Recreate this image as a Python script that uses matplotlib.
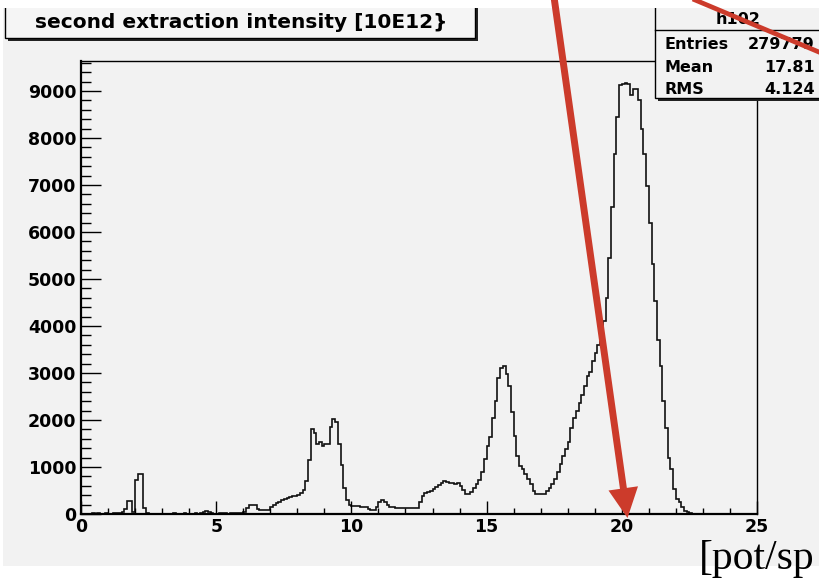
import numpy as np
import matplotlib
matplotlib.use('Agg')
import matplotlib.pyplot as plt
from matplotlib.patches import Rectangle, Polygon
from matplotlib.lines import Line2D
from matplotlib.transforms import Affine2D
from matplotlib.ticker import MultipleLocator

# ---------------- data (bin width 0.1, range 0..25) ----------------
counts_00_05 = [5, 8, 10, 6, 12, 8, 15, 10, 8, 12,
                10, 8, 12, 15, 20, 35, 110, 270, 280, 40,
                720, 860, 860, 120, 20, 10, 8, 6, 10, 8,
                10, 8, 6, 10, 12, 8, 10, 8, 12, 10,
                8, 10, 12, 10, 15, 40, 60, 50, 12, 10]
counts_05_10 = [10, 12, 15, 12, 10, 15, 18, 15, 12, 20,
                40, 130, 190, 200, 190, 100, 90, 90, 90, 90,
                150, 190, 230, 260, 290, 320, 350, 370, 390, 390,
                410, 450, 520, 700, 1150, 1800, 1730, 1500, 1540, 1450,
                1480, 1480, 1850, 2020, 1950, 1500, 1040, 560, 300, 190]
counts_10_15 = [180, 170, 160, 150, 145, 140, 100, 90, 90, 140,
                250, 290, 260, 190, 145, 150, 130, 130, 135, 130,
                130, 130, 125, 130, 130, 250, 390, 440, 470, 500,
                540, 580, 620, 660, 700, 690, 650, 670, 640, 650,
                600, 520, 430, 420, 470, 550, 640, 720, 890, 1180]
counts_15_20 = [1440, 1640, 2050, 2400, 2900, 3110, 3160, 2970, 2720, 2160,
                1650, 1230, 1020, 950, 850, 740, 640, 490, 420, 420,
                420, 420, 490, 550, 640, 740, 890, 1060, 1235, 1380,
                1530, 1840, 2050, 2190, 2370, 2540, 2720, 2930, 3015, 3250,
                3430, 3600, 3810, 4100, 4600, 5440, 6530, 7670, 8450, 9130]
counts_20_25 = [9150, 9180, 9150, 8920, 9040, 9040, 8810, 8200, 7670, 6970,
                6190, 5320, 4540, 3700, 3140, 2400, 1840, 1200, 950, 530,
                320, 250, 150, 70, 40, 20, 10, 5, 3, 0,
                0, 0, 0, 0, 0, 0, 0, 0, 0, 0,
                0, 0, 0, 0, 0, 0, 0, 0, 0, 0]
counts = counts_00_05 + counts_05_10 + counts_10_15 + counts_15_20 + counts_20_25
x_range = (0, 25)
n_bins = len(counts)

title_text = "second extraction intensity [10E12}"
stats_name = "h102"
stats_labels = ["Entries", "Mean", "RMS"]
stats_values = ["279779", "17.81", "4.124"]
unit_text = "[pot/sp"

# ---------------- figure ----------------
plt.rcParams['font.family'] = ['DejaVu Sans']
plt.rcParams['font.weight'] = 'bold'

W, H = 820, 584
fig = plt.figure(figsize=(W / 100, H / 100), dpi=100)
fig.patch.set_facecolor('white')
tr = Affine2D().scale(1.0 / W, -1.0 / H).translate(0, 1) + fig.transFigure

GRAY = '#f2f2f2'
RED = '#cc3b2b'

# canvas
fig.add_artist(Rectangle((3, 8), W, 558, transform=tr, facecolor=GRAY,
                         edgecolor='none', zorder=-5))

ax = fig.add_axes([81 / W, 1 - 514 / H, (757 - 81) / W, (514 - 61) / H])
ax.set_facecolor(GRAY)
edges = np.linspace(x_range[0], x_range[1], n_bins + 1)
ax.stairs(counts, edges, color='#111111', linewidth=1.2)
ax.set_xlim(*x_range)
ax.set_ylim(0, 9640)

ax.xaxis.set_major_locator(MultipleLocator(5))
ax.xaxis.set_minor_locator(MultipleLocator(1))
ax.yaxis.set_major_locator(MultipleLocator(1000))
ax.yaxis.set_minor_locator(MultipleLocator(200))
ax.tick_params(axis='x', which='major', direction='in', length=9.4, width=1.0,
               pad=3, labelsize=12.5, top=False)
ax.tick_params(axis='x', which='minor', direction='in', length=4.3, width=1.0, top=False)
ax.tick_params(axis='y', which='major', direction='in', length=14.4, width=1.0,
               pad=3.5, labelsize=12.5, right=False)
ax.tick_params(axis='y', which='minor', direction='in', length=7.2, width=1.0, right=False)
for lab in ax.get_xticklabels() + ax.get_yticklabels():
    lab.set_fontweight('bold')
ax.spines['left'].set_linewidth(1.6)
ax.spines['bottom'].set_linewidth(1.6)
ax.spines['top'].set_linewidth(1.0)
ax.spines['right'].set_linewidth(1.0)

# title box with shadow
fig.add_artist(Rectangle((8, 0), 470, 41, transform=tr, facecolor='#222222',
                         edgecolor='none', zorder=3))
fig.add_artist(Rectangle((5, 0), 470, 38, transform=tr, facecolor='#f5f5f5',
                         edgecolor='black', linewidth=1.0, zorder=3.1))
fig.text(241 / W, 1 - 23 / H, title_text, fontsize=14.5, fontweight='bold',
         ha='center', va='center', zorder=3.2)

# stats box with shadow
fig.add_artist(Rectangle((658, 0), 200, 101, transform=tr, facecolor='#222222',
                         edgecolor='none', zorder=3))
fig.add_artist(Rectangle((655, 0), 200, 98, transform=tr, facecolor=GRAY,
                         edgecolor='black', linewidth=1.0, zorder=3.1))
fig.add_artist(Line2D([655, 830], [30, 30], transform=tr, color='black',
                      linewidth=1.0, zorder=3.2))
fig.text(738 / W, 1 - 20 / H, stats_name, fontsize=11.5, fontweight='bold',
         ha='center', va='center', zorder=3.3)
for i, (lab, val) in enumerate(zip(stats_labels, stats_values)):
    yb = [49, 72, 94][i]
    fig.text(664 / W, 1 - yb / H, lab, fontsize=11.5, fontweight='bold',
             ha='left', va='baseline', zorder=3.3)
    fig.text(815 / W, 1 - yb / H, val, fontsize=11.5, fontweight='bold',
             ha='right', va='baseline', zorder=3.3)

# white strip at the top
fig.add_artist(Rectangle((0, -2), W, 10, transform=tr, facecolor='white',
                         edgecolor='none', zorder=5))

# red annotation arrows
fig.add_artist(Line2D([554.0, 623.5], [-3, 489], transform=tr, color=RED,
                      linewidth=5.0, solid_capstyle='butt', zorder=10))
fig.add_artist(Polygon([(608.5, 490.5), (638.0, 486.3), (627.5, 518)], closed=True,
                       transform=tr, facecolor=RED, edgecolor='none', zorder=10))
fig.add_artist(Line2D([688, 826], [-3, 55], transform=tr, color=RED,
                      linewidth=3.4, solid_capstyle='butt', zorder=10))

# unit label bottom right
fig.text(699 / W, 1 - 569 / H, unit_text, fontsize=30, fontweight='normal',
         family=['Liberation Serif', 'DejaVu Serif'], ha='left', va='baseline',
         zorder=6)

fig.savefig('out.png', dpi=100, facecolor='white')
